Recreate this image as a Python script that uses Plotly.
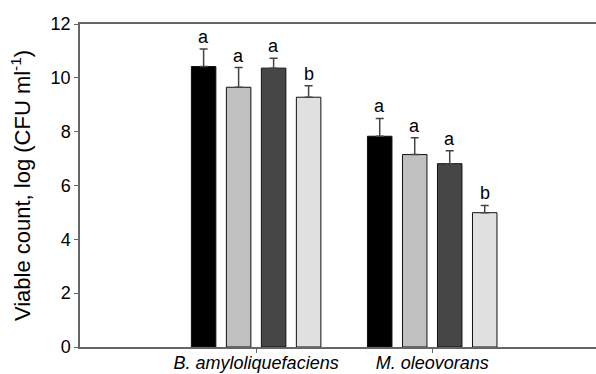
import plotly.graph_objects as go

categories = [0, 1]
category_labels = ["<i>B. amyloliquefaciens</i>", "<i>M. oleovorans</i>"]
series_names = ["T1", "T2", "T3", "T4"]
series_colors = ["#000000", "#c0c0c0", "#464646", "#e0e0e0"]
values = [
    [10.42, 7.83],
    [9.65, 7.15],
    [10.36, 6.81],
    [9.28, 4.99],
]
errors = [
    [0.65, 0.66],
    [0.73, 0.62],
    [0.37, 0.48],
    [0.43, 0.27],
]
letters = [
    ["a", "a"],
    ["a", "a"],
    ["a", "a"],
    ["b", "b"],
]

bargap = 0.205
bargroupgap = 0.3
n = len(series_names)
slot = (1 - bargap) / n
FONT = "Liberation Sans, Arial"

fig = go.Figure()
for i in range(n):
    fig.add_trace(go.Bar(
        x=categories, y=values[i], name=series_names[i],
        marker=dict(color=series_colors[i], line=dict(color="#111111", width=1)),
        error_y=dict(type="data", array=errors[i], symmetric=False,
                     arrayminus=[0] * len(categories),
                     color="#444444", thickness=1.5, width=4),
        showlegend=False,
    ))

annotations = []
for i in range(n):
    off = (i - (n - 1) / 2) * slot
    for j, c in enumerate(categories):
        annotations.append(dict(
            x=c + off, y=values[i][j] + errors[i][j], xref="x", yref="y",
            text=letters[i][j], showarrow=False, yanchor="bottom", yshift=0,
            font=dict(family=FONT, size=18, color="#000000"),
        ))

fig.update_layout(
    width=596, height=374,
    margin=dict(l=80, r=0, t=24, b=27, autoexpand=False),
    paper_bgcolor="white", plot_bgcolor="white",
    barmode="group", bargap=bargap, bargroupgap=bargroupgap,
    font=dict(family=FONT, size=18, color="#000000"),
    annotations=annotations,
    xaxis=dict(
        range=[-1.0, 1.93], tickvals=categories, ticktext=category_labels,
        showline=True, linecolor="#666666", linewidth=1.5, mirror=True,
        ticks="outside", ticklen=4, tickcolor="#666666",
        showgrid=False, zeroline=False, automargin=False,
        tickfont=dict(size=18), ticklabelstandoff=-5,
    ),
    yaxis=dict(
        range=[0, 12], dtick=2, tick0=0,
        showline=True, linecolor="#666666", linewidth=1.5,
        ticks="outside", ticklen=4, tickcolor="#666666",
        showgrid=False, zeroline=False, automargin=False,
        tickfont=dict(size=18),
        title=dict(text="Viable count, log (CFU ml<sup>-1</sup>)", font=dict(size=22), standoff=14),
    ),
)

fig.write_html(
    "out.html",
    config={"displayModeBar": False},
    post_script="document.body.style.margin='0px';document.body.style.overflow='hidden';",
)
